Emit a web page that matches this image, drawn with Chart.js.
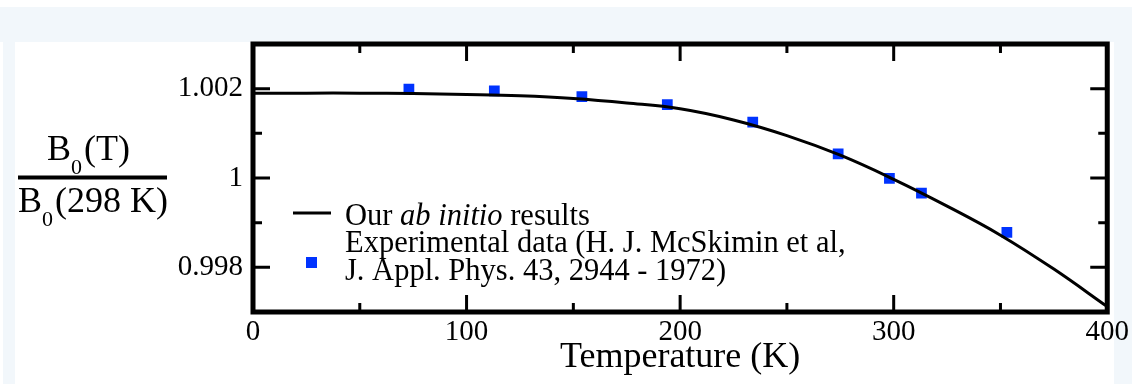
<!DOCTYPE html>
<html>
<head>
<meta charset="utf-8">
<script src="https://cdn.jsdelivr.net/npm/chart.js@4"></script>
<style>
  html, body { margin: 0; padding: 0; background: #ffffff; }
  #wrap { width: 1132px; height: 384px; }
</style>
</head>
<body>
<div id="wrap"><canvas id="myChart" width="1132" height="384"></canvas></div>
<script>
// ab initio curve
const curveT = [0, 25, 50, 75, 100, 125, 150, 175, 200, 225, 250, 275, 300, 325, 350, 375, 400];
const curveB = [1.0019, 1.0019, 1.0019, 1.00189, 1.00187, 1.00184, 1.00178, 1.00168, 1.00155,
  1.0013, 1.00095, 1.00051, 0.99997, 0.99937, 0.99872, 0.99796, 0.99712];

// experimental points (McSkimin 1972)
const expT = [73, 113, 154, 194, 234, 274, 298, 313, 353];
const expB = [1.00199, 1.00195, 1.00182, 1.00164, 1.00125, 1.00054, 0.99999, 0.99966, 0.99878];

const xTicks = [0, 100, 200, 300, 400];
const xTickLabels = ["0", "100", "200", "300", "400"];
const xMinor = [50, 150, 250, 350];
const yTicks = [0.998, 1, 1.002];
const yTickLabels = ["0.998", "1", "1.002"];
const yMinor = [0.999, 1.001];

const serif = '"Liberation Serif", "Times New Roman", serif';
const blue = "#0033ff";

const decor = {
  id: "decor",
  beforeDraw(chart) {
    const ctx = chart.ctx;
    ctx.save();
    ctx.fillStyle = "#ffffff";
    ctx.fillRect(0, 0, chart.width, chart.height);
    ctx.fillStyle = "#f2f7fb";
    ctx.fillRect(0, 7, chart.width, 35);
    ctx.fillRect(3, 42, 12, chart.height - 42);
    ctx.fillRect(1114, 42, 18, chart.height - 42);
    ctx.restore();
  },
  afterDraw(chart) {
    const ctx = chart.ctx;
    const a = chart.chartArea;
    const xs = chart.scales.x;
    const ys = chart.scales.y;
    ctx.save();
    ctx.strokeStyle = "#000";
    ctx.lineWidth = 5;
    ctx.strokeRect(a.left, a.top, a.right - a.left, a.bottom - a.top);

    // inward ticks on all four sides
    ctx.lineWidth = 3;
    function xTick(v, len) {
      const px = xs.getPixelForValue(v);
      ctx.beginPath();
      ctx.moveTo(px, a.bottom); ctx.lineTo(px, a.bottom - len);
      ctx.moveTo(px, a.top); ctx.lineTo(px, a.top + len);
      ctx.stroke();
    }
    function yTick(v, len) {
      const py = ys.getPixelForValue(v);
      ctx.beginPath();
      ctx.moveTo(a.left, py); ctx.lineTo(a.left + len, py);
      ctx.moveTo(a.right, py); ctx.lineTo(a.right - len, py);
      ctx.stroke();
    }
    xTicks.forEach((v) => xTick(v, 17));
    xMinor.forEach((v) => xTick(v, 9));
    yTicks.forEach((v) => yTick(v, 17));
    yMinor.forEach((v) => yTick(v, 9));

    // legend
    ctx.lineWidth = 3;
    ctx.beginPath();
    ctx.moveTo(293, 213); ctx.lineTo(331, 213);
    ctx.stroke();
    ctx.fillStyle = blue;
    ctx.fillRect(306, 257, 11, 11);

    ctx.fillStyle = "#000";
    ctx.textBaseline = "alphabetic";
    ctx.textAlign = "left";
    const f = "30.5px " + serif;
    const fi = "italic 30.5px " + serif;
    let x = 345;
    ctx.font = f;
    ctx.fillText("Our ", x, 225);
    x += ctx.measureText("Our ").width;
    ctx.font = fi;
    ctx.fillText("ab initio", x, 225);
    x += ctx.measureText("ab initio").width;
    ctx.font = f;
    ctx.fillText(" results", x, 225);
    ctx.fillText("Experimental data (H. J. McSkimin et al,", 345, 252);
    ctx.fillText("J. Appl. Phys. 43, 2944 - 1972)", 345, 280);

    // y axis label as a fraction
    const big = "36px " + serif;
    const sub = "22px " + serif;
    function subText(parts, x0, base) {
      let cx = x0;
      parts.forEach((p) => {
        ctx.font = p.sub ? sub : big;
        ctx.fillText(p.t, cx, base + (p.sub ? 14 : 0));
        cx += ctx.measureText(p.t).width + (p.sub ? 2 : 0);
      });
    }
    subText([{ t: "B" }, { t: "0", sub: true }, { t: "(T)" }], 47, 160);
    ctx.fillRect(18, 175.5, 149, 4);
    subText([{ t: "B" }, { t: "0", sub: true }, { t: "(298 K)" }], 18, 212);
    ctx.restore();
  },
};

const ctx = document.getElementById("myChart").getContext("2d");
const chart = new Chart(ctx, {
  type: "line",
  data: {
    datasets: [
      {
        label: "Our ab initio results",
        data: curveT.map((t, i) => ({ x: t, y: curveB[i] })),
        borderColor: "#000",
        borderWidth: 3,
        pointRadius: 0,
        fill: false,
        tension: 0.4,
      },
      {
        label: "Experimental data",
        data: expT.map((t, i) => ({ x: t, y: expB[i] })),
        showLine: false,
        pointStyle: "rect",
        pointRadius: 7.6,
        pointBorderWidth: 0,
        pointBackgroundColor: blue,
        pointBorderColor: blue,
      },
    ],
  },
  options: {
    responsive: false,
    animation: false,
    events: [],
    layout: { padding: { left: 0, right: 23.5, top: 44, bottom: 0 } },
    plugins: {
      legend: { display: false },
      tooltip: { enabled: false },
    },
    scales: {
      x: {
        type: "linear",
        min: 0,
        max: 400,
        grid: { display: false, drawTicks: false },
        border: { display: false },
        afterBuildTicks: (s) => { s.ticks = xTicks.map((v) => ({ value: v })); },
        afterFit: (s) => { s.height = 72; },
        ticks: {
          padding: 3,
          color: "#000",
          font: { family: serif, size: 29 },
          maxRotation: 0,
          callback: (v, i) => xTickLabels[i],
        },
        title: {
          display: true,
          text: "Temperature (K)",
          color: "#000",
          font: { family: serif, size: 36 },
          padding: { top: 0, bottom: 5 },
        },
      },
      y: {
        min: 0.997,
        max: 1.003,
        grid: { display: false, drawTicks: false },
        border: { display: false },
        afterBuildTicks: (s) => { s.ticks = yTicks.map((v) => ({ value: v })); },
        afterFit: (s) => { s.width = 253; },
        ticks: {
          padding: 10,
          color: "#000",
          font: { family: serif, size: 29 },
          callback: (v, i) => yTickLabels[i],
        },
      },
    },
  },
  plugins: [decor],
});
</script>
</body>
</html>
